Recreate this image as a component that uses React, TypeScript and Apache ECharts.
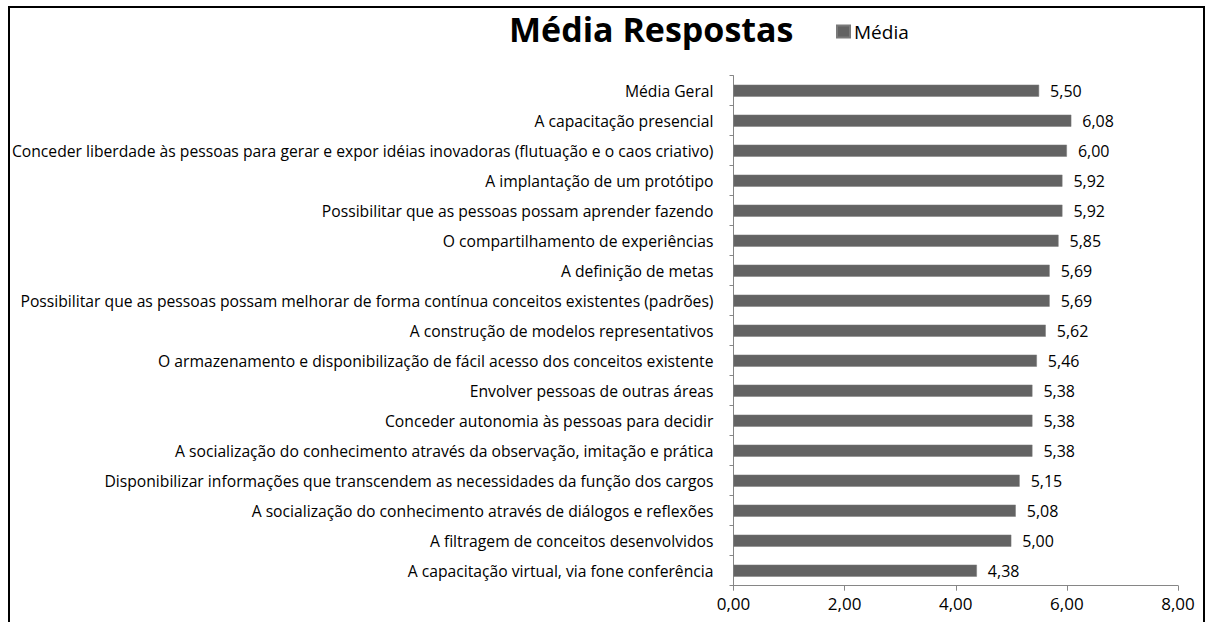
import React, { useEffect, useRef } from "react";
import * as echarts from "echarts";

const categories = [
  "Média Geral",
  "A capacitação presencial",
  "Conceder liberdade às pessoas para gerar e expor idéias inovadoras (flutuação e o caos criativo)",
  "A implantação de um protótipo",
  "Possibilitar que as pessoas possam aprender fazendo",
  "O compartilhamento de experiências",
  "A definição de metas",
  "Possibilitar que as pessoas possam melhorar de forma contínua conceitos existentes (padrões)",
  "A construção de modelos representativos",
  "O armazenamento e disponibilização de fácil acesso dos conceitos existente",
  "Envolver pessoas de outras áreas",
  "Conceder autonomia às pessoas para decidir",
  "A socialização do conhecimento através da observação, imitação e prática",
  "Disponibilizar informações que transcendem as necessidades da função dos cargos",
  "A socialização do conhecimento através de diálogos e reflexões",
  "A filtragem de conceitos desenvolvidos",
  "A capacitação virtual, via fone conferência",
];

const mediaValues = [5.5, 6.08, 6.0, 5.92, 5.92, 5.85, 5.69, 5.69, 5.62, 5.46, 5.38, 5.38, 5.38, 5.15, 5.08, 5.0, 4.38];

const titleText = "Média Respostas";
const seriesName = "Média";

const fmt = (v: number) => v.toFixed(2).replace(".", ",");

export default function App() {
  const ref = useRef<HTMLDivElement>(null);
  useEffect(() => {
    document.body.style.margin = "0";
    const chart = echarts.init(ref.current!, null, { renderer: "svg" });
    const font = "'Open Sans', sans-serif";
    chart.setOption({
      animation: false,
      backgroundColor: "#ffffff",
      textStyle: { fontFamily: font },
      title: {
        text: titleText,
        left: 504,
        top: 7,
        textStyle: { fontFamily: font, fontSize: 34, fontWeight: "bold", color: "#000" },
      },
      legend: {
        data: [seriesName],
        left: 831,
        top: 17,
        icon: "rect",
        itemWidth: 13,
        itemHeight: 12,
        itemGap: 4,
        textStyle: { fontFamily: font, fontSize: 19, color: "#000", padding: [0, 0, 0, -1] },
      },
      graphic: [
        {
          type: "rect",
          shape: { x: 9, y: 7, width: 1195, height: 640 },
          style: { fill: "none", stroke: "#000", lineWidth: 2 },
          silent: true,
        },
      ],
      grid: { left: 733.5, right: 30, top: 75.7, bottom: 36.3, containLabel: false },
      xAxis: {
        type: "value",
        min: 0,
        max: 8,
        interval: 2,
        axisLine: { show: true, lineStyle: { color: "#868686", width: 1 } },
        axisTick: { show: true, length: 5, lineStyle: { color: "#868686" } },
        splitLine: { show: false },
        axisLabel: {
          formatter: (v: number) => fmt(v),
          fontFamily: font,
          fontSize: 17,
          color: "#000",
          margin: 9,
        },
      },
      yAxis: {
        type: "category",
        data: categories,
        inverse: true,
        axisLine: { show: true, lineStyle: { color: "#868686", width: 1 } },
        axisTick: { show: true, length: 4, lineStyle: { color: "#868686" } },
        axisLabel: { fontFamily: font, fontSize: 15.7, color: "#000", margin: 20 },
      },
      series: [
        {
          name: seriesName,
          type: "bar",
          data: mediaValues,
          barWidth: 12,
          itemStyle: { color: "#636363", borderColor: "#7a7a7a", borderWidth: 0.5 },
          label: {
            show: true,
            position: "right",
            distance: 11,
            formatter: (p: any) => fmt(p.value),
            fontFamily: font,
            fontSize: 16,
            color: "#000",
          },
        },
      ],
    });
    return () => chart.dispose();
  }, []);
  return <div ref={ref} style={{ width: 1208, height: 622 }} />;
}
